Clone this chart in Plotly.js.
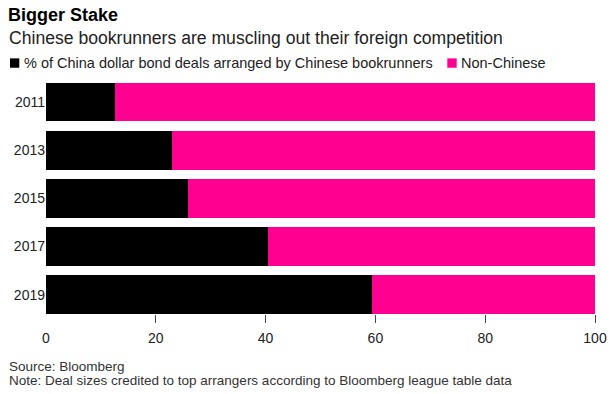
<!DOCTYPE html>
<html>
<head>
<meta charset="utf-8">
<script src="https://cdn.plot.ly/plotly-3.0.1.min.js"></script>
<style>
html,body{margin:0;padding:0;background:#fff;}
#chart{width:612px;height:394px;}
</style>
</head>
<body>
<div id="chart"></div>
<script>
var years = ['2011', '2013', '2015', '2017', '2019'];
var chinese = [12.5, 23.0, 25.8, 40.5, 59.3];
var nonChinese = [87.5, 77.0, 74.2, 59.5, 40.7];
var xTicks = [0, 20, 40, 60, 80, 100];
var seriesNames = ['% of China dollar bond deals arranged by Chinese bookrunners', 'Non-Chinese'];
var colors = ['#000000', '#ff0090'];

var FONT = '"Liberation Sans", Arial, sans-serif';
var W = 612, H = 394;
var L = 46, R = 17, T = 77.5, B = 79.8;
var pw = W - L - R, ph = H - T - B;
function px(x){ return (x - L) / pw; }
function py(y){ return (H - B - y) / ph; }

var traces = [
  {type:'bar', orientation:'h', y: years, x: chinese, name: seriesNames[0],
   marker:{color: colors[0]}, hoverinfo:'skip'},
  {type:'bar', orientation:'h', y: years, x: nonChinese, name: seriesNames[1],
   marker:{color: colors[1]}, hoverinfo:'skip'}
];

var layout = {
  width: W, height: H,
  margin: {l: L, r: R, t: T, b: B, pad: 0},
  paper_bgcolor: '#fff', plot_bgcolor: '#fff',
  font: {family: FONT, color: '#000', size: 13},
  barmode: 'stack',
  bargap: 0.2,
  showlegend: false,
  title: {text: '<b>Bigger Stake</b>', x: 8/W, xanchor: 'left', xref: 'container',
          y: 1 - 15/H, yref: 'container', yanchor: 'middle',
          font: {family: FONT, size: 18, color: '#000'}},
  xaxis: {
    range: [0, 100], tickvals: xTicks, ticktext: xTicks.map(String),
    ticks: '', showgrid: false, zeroline: false, showline: false,
    ticklabelstandoff: 14,
    tickfont: {family: FONT, size: 14, color: '#222'},
    minor: {tickvals: xTicks.slice(1), ticks: 'outside', ticklen: 8, tickwidth: 1, tickcolor: '#444', showgrid: false},
    fixedrange: true
  },
  yaxis: {
    type: 'category', categoryarray: years, range: [4.4, -0.5],
    ticks: '', showgrid: false, zeroline: false, showline: false,
    tickfont: {family: FONT, size: 14, color: '#222'},
    fixedrange: true
  },
  shapes: [
    {type:'rect', xref:'paper', yref:'paper', x0: px(10), x1: px(19.3), y0: py(67.2), y1: py(57.8),
     fillcolor: colors[0], line:{width:0}},
    {type:'rect', xref:'paper', yref:'paper', x0: px(447.3), x1: px(456.7), y0: py(67.2), y1: py(57.8),
     fillcolor: colors[1], line:{width:0}}
  ],
  annotations: [
    {text: 'Chinese bookrunners are muscling out their foreign competition', xref:'paper', yref:'paper',
     x: px(7), y: py(37.5), xanchor:'left', yanchor:'middle', showarrow:false,
     font:{family: FONT, size: 17.6, color:'#222'}},
    {text: seriesNames[0], xref:'paper', yref:'paper', x: px(21.5), y: py(62.5), xanchor:'left', yanchor:'middle',
     showarrow:false, font:{family: FONT, size: 14.5, color:'#222'}},
    {text: seriesNames[1], xref:'paper', yref:'paper', x: px(459), y: py(62.5), xanchor:'left', yanchor:'middle',
     showarrow:false, font:{family: FONT, size: 14.5, color:'#222'}},
    {text: 'Source: Bloomberg', xref:'paper', yref:'paper', x: px(7), y: py(367), xanchor:'left', yanchor:'middle',
     showarrow:false, font:{family: FONT, size: 13.5, color:'#333'}},
    {text: 'Note: Deal sizes credited to top arrangers according to Bloomberg league table data', xref:'paper', yref:'paper',
     x: px(7), y: py(381), xanchor:'left', yanchor:'middle',
     showarrow:false, font:{family: FONT, size: 13.5, color:'#333'}}
  ]
};

Plotly.newPlot('chart', traces, layout, {displayModeBar: false, staticPlot: true});
</script>
</body>
</html>
